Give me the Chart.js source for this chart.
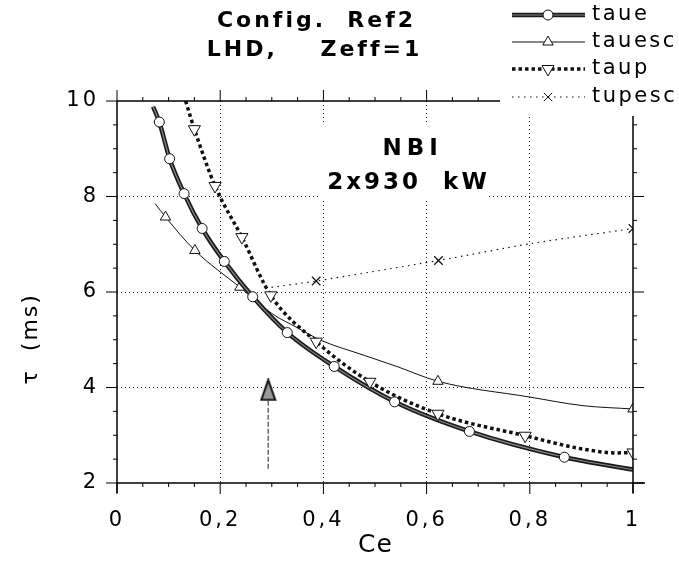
<!DOCTYPE html>
<html>
<head>
<meta charset="utf-8">
<script src="https://cdn.jsdelivr.net/npm/chart.js@4.4.1/dist/chart.umd.min.js"></script>
<style>
  html, body { margin: 0; padding: 0; background: #fff; }
</style>
</head>
<body>
<canvas id="myChart" width="679" height="561"></canvas>
<script>
// values (Ce on x, tau in ms on y)
const taueCe   = [0.070, 0.082, 0.102, 0.130, 0.165, 0.208, 0.263, 0.330, 0.421, 0.538, 0.683, 0.867, 1.000];
const taueTau  = [9.88, 9.56, 8.79, 8.06, 7.33, 6.64, 5.90, 5.15, 4.44, 3.70, 3.08, 2.54, 2.28];
const taueMarks = [0.082, 0.102, 0.130, 0.165, 0.208, 0.263, 0.330, 0.421, 0.538, 0.683, 0.867];

const tauescCe  = [0.074, 0.094, 0.151, 0.238, 0.300, 0.350, 0.395, 0.480, 0.545, 0.622, 0.800, 0.903, 1.000];
const tauescTau = [7.85, 7.57, 6.87, 6.10, 5.55, 5.25, 4.99, 4.67, 4.43, 4.13, 3.80, 3.62, 3.55];
const tauescMarks = [0.094, 0.151, 0.238, 0.622, 1.000];

const taupCe  = [0.133, 0.150, 0.190, 0.242, 0.298, 0.386, 0.490, 0.622, 0.791, 0.903, 0.968, 1.000];
const taupTau = [10.0, 9.41, 8.22, 7.15, 5.93, 4.96, 4.12, 3.45, 2.99, 2.71, 2.63, 2.64];
const taupMarks = [0.150, 0.190, 0.242, 0.298, 0.386, 0.490, 0.622, 0.791, 1.000];

const tupescCe  = [0.288, 0.386, 0.623, 0.800, 1.000];
const tupescTau = [6.08, 6.23, 6.66, 7.01, 7.33];
const tupescMarks = [0.386, 0.623, 1.000];

// arrow marking Ce ~ 0.29
const arrowCe  = [0.293, 0.293];
const arrowTau = [2.30, 3.74];
const arrowHeadTau = [3.95];

const xTickLabels = ["0", "0,2", "0,4", "0,6", "0,8", "1"];
const yTickLabels = ["2", "4", "6", "8", "10"];

const seriesNames = ["taue", "tauesc", "taup", "tupesc"];

const FONT = "'DejaVu Sans', 'Liberation Sans', sans-serif";

function pts(xs, ys) {
  return xs.map((v, i) => ({ x: v, y: ys[i] }));
}
function marked(list, r) {
  return ctx => (ctx.raw && list.includes(ctx.raw.x)) ? r : 0;
}

// narrow gray arrow head
const head = document.createElement("canvas");
head.width = 17; head.height = 23;
(function () {
  const c = head.getContext("2d");
  c.beginPath();
  c.moveTo(8.5, 1.5); c.lineTo(15.5, 21.5); c.lineTo(1.5, 21.5); c.closePath();
  c.fillStyle = "#9a9a9a"; c.fill();
  c.lineWidth = 2; c.strokeStyle = "#111"; c.stroke();
})();

const lineStyles = [
  { color: "#1a1a1a", width: 4.5, dash: [], mark: "circle", r: 5 },
  { color: "#111", width: 1, dash: [], mark: "triangle", r: 6 },
  { color: "#111", width: 3.5, dash: [3.5, 3], mark: "down", r: 7 },
  { color: "#111", width: 1.2, dash: [1.5, 4.5], mark: "cross", r: 6 }
];

function drawMark(ctx, kind, x, y, r) {
  ctx.save();
  ctx.setLineDash([]);
  ctx.lineWidth = 1;
  ctx.strokeStyle = "#111";
  ctx.fillStyle = "#fff";
  ctx.beginPath();
  if (kind === "circle") {
    ctx.arc(x, y, r, 0, Math.PI * 2);
    ctx.fill(); ctx.stroke();
  } else if (kind === "triangle" || kind === "down") {
    const s = kind === "down" ? -1 : 1;
    ctx.moveTo(x, y - s * r);
    ctx.lineTo(x + r * 0.866, y + s * r / 2);
    ctx.lineTo(x - r * 0.866, y + s * r / 2);
    ctx.closePath();
    ctx.fill(); ctx.stroke();
  } else {
    const d = r * 0.7;
    ctx.moveTo(x - d, y - d); ctx.lineTo(x + d, y + d);
    ctx.moveTo(x + d, y - d); ctx.lineTo(x - d, y + d);
    ctx.stroke();
  }
  ctx.restore();
}

function text(ctx, str, x, y, font, spacing, align) {
  ctx.save();
  ctx.font = font;
  ctx.letterSpacing = spacing + "px";
  ctx.fillStyle = "#000";
  ctx.textBaseline = "middle";
  ctx.textAlign = "left";
  const w = ctx.measureText(str).width - spacing;
  let x0 = x;
  if (align === "center") x0 = x - w / 2;
  ctx.fillText(str, x0, y);
  ctx.restore();
}

const decor = {
  id: "decor",
  beforeDraw(chart) {
    const ctx = chart.ctx;
    ctx.save();
    ctx.fillStyle = "#fff";
    ctx.fillRect(0, 0, chart.width, chart.height);
    ctx.restore();
    ctx.letterSpacing = "3px";
  },
  beforeDatasetsDraw(chart) {
    const { ctx, scales: { x, y } } = chart;
    // white box behind the NBI note
    ctx.save();
    ctx.fillStyle = "#fff";
    const l = x.getPixelForValue(0.393), r = x.getPixelForValue(0.716);
    const t = y.getPixelForValue(9.56), b = y.getPixelForValue(7.93);
    ctx.fillRect(l, t, r - l, b - t);
    ctx.restore();
    text(ctx, "NBI", x.getPixelForValue(0.568), y.getPixelForValue(9.0), "bold 23px " + FONT, 5, "center");
    text(ctx, "2x930  kW", x.getPixelForValue(0.562), y.getPixelForValue(8.28), "bold 23px " + FONT, 3, "center");
  },
  afterDatasetsDraw(chart) {
    const { ctx, chartArea: a, scales: { x, y } } = chart;
    ctx.save();
    ctx.setLineDash([]);
    ctx.strokeStyle = "#000";
    ctx.lineWidth = 1.5;
    ctx.beginPath();
    ctx.moveTo(a.left, a.top); ctx.lineTo(a.right + 10, a.top);
    ctx.moveTo(a.left, a.bottom); ctx.lineTo(a.right + 12, a.bottom);
    ctx.moveTo(a.left, a.top); ctx.lineTo(a.left, a.bottom + 10);
    ctx.moveTo(a.right, a.top); ctx.lineTo(a.right, a.bottom + 10);
    ctx.stroke();
    ctx.lineWidth = 1;
    ctx.beginPath();
    for (let i = 0; i <= 20; i++) {
      const px = x.getPixelForValue(i / 20);
      const len = i % 4 === 0 ? 11 : 4;
      ctx.moveTo(px, a.bottom); ctx.lineTo(px, a.bottom + len);
      ctx.moveTo(px, a.top); ctx.lineTo(px, a.top - len);
    }
    for (let i = 0; i <= 16; i++) {
      const py = y.getPixelForValue(2 + i / 2);
      const len = i % 4 === 0 ? 11 : 4;
      ctx.moveTo(a.left, py); ctx.lineTo(a.left - len, py);
      ctx.moveTo(a.right, py); ctx.lineTo(a.right + len, py);
    }
    ctx.stroke();
    ctx.restore();
  },
  afterDraw(chart) {
    const { ctx, scales: { x, y } } = chart;
    // legend box covers the frame corner
    ctx.save();
    ctx.fillStyle = "#fff";
    ctx.fillRect(500, 0, 179, 116);
    ctx.restore();
    const rows = [15, 42, 69, 97];
    seriesNames.forEach((name, i) => {
      const s = lineStyles[i];
      ctx.save();
      ctx.strokeStyle = s.color;
      ctx.lineWidth = s.width;
      ctx.setLineDash(s.dash);
      ctx.beginPath();
      ctx.moveTo(512, rows[i]); ctx.lineTo(585, rows[i]);
      ctx.stroke();
      if (i === 0) {
        ctx.strokeStyle = "#8a8a8a";
        ctx.lineWidth = 1.2;
        ctx.stroke();
      }
      ctx.restore();
      drawMark(ctx, s.mark, 548, rows[i], s.r);
      text(ctx, name, 592, rows[i], "21px " + FONT, 2.5, "left");
    });
    // title
    text(ctx, "Config.  Ref2", 315, 21, "bold 22px " + FONT, 3, "center");
    text(ctx, "LHD,    Zeff=1", 313, 50, "bold 22px " + FONT, 3, "center");
    // axis titles
    text(ctx, "Ce", x.getPixelForValue(0.5), 545, "25px " + FONT, 1, "center");
    ctx.save();
    ctx.translate(31, y.getPixelForValue(5));
    ctx.rotate(-Math.PI / 2);
    text(ctx, "\u03c4  (ms)", 0, 0, "22px " + FONT, 2, "center");
    ctx.restore();
  }
};

function gridColor(ctx) {
  const n = ctx.scale.ticks.length;
  return (ctx.index === 0 || ctx.index === n - 1) ? "rgba(0,0,0,0)" : "#222";
}

new Chart(document.getElementById("myChart"), {
  type: "scatter",
  data: {
    datasets: [
      {
        label: "taue",
        data: pts(taueCe, taueTau),
        showLine: true,
        borderColor: lineStyles[0].color,
        borderWidth: lineStyles[0].width,
        cubicInterpolationMode: "monotone",
        pointRadius: 0,
        order: 3
      },
      {
        // light core of the double taue line, with its circles
        label: "taue core",
        data: pts(taueCe, taueTau),
        showLine: true,
        borderColor: "#8a8a8a",
        borderWidth: 1.2,
        cubicInterpolationMode: "monotone",
        pointStyle: "circle",
        pointRadius: marked(taueMarks, 5),
        pointBackgroundColor: "#fff",
        pointBorderColor: "#111",
        pointBorderWidth: 1,
        order: 2
      },
      {
        label: "tauesc",
        data: pts(tauescCe, tauescTau),
        showLine: true,
        borderColor: lineStyles[1].color,
        borderWidth: lineStyles[1].width,
        cubicInterpolationMode: "monotone",
        pointStyle: "triangle",
        pointRadius: marked(tauescMarks, 6),
        pointBackgroundColor: "#fff",
        pointBorderColor: "#111",
        pointBorderWidth: 1,
        order: 4
      },
      {
        label: "taup",
        data: pts(taupCe, taupTau),
        showLine: true,
        borderColor: lineStyles[2].color,
        borderWidth: lineStyles[2].width,
        borderDash: lineStyles[2].dash,
        cubicInterpolationMode: "monotone",
        pointStyle: "triangle",
        pointRotation: 180,
        pointRadius: marked(taupMarks, 7),
        pointBackgroundColor: "#fff",
        pointBorderColor: "#111",
        pointBorderWidth: 1,
        order: 1
      },
      {
        label: "tupesc",
        data: pts(tupescCe, tupescTau),
        showLine: true,
        borderColor: lineStyles[3].color,
        borderWidth: lineStyles[3].width,
        borderDash: lineStyles[3].dash,
        tension: 0.25,
        pointStyle: "crossRot",
        pointRadius: marked(tupescMarks, 6),
        pointBorderColor: "#111",
        pointBorderWidth: 1.2,
        order: 5
      },
      {
        label: "arrow",
        data: pts(arrowCe, arrowTau),
        showLine: true,
        borderColor: "#444",
        borderWidth: 1.2,
        borderDash: [5, 2],
        pointRadius: 0,
        order: 6
      },
      {
        label: "arrowHead",
        data: pts(arrowCe.slice(0, 1), arrowHeadTau),
        showLine: false,
        pointStyle: head,
        pointRadius: 10,
        order: 0
      }
    ]
  },
  options: {
    responsive: false,
    animation: false,
    devicePixelRatio: 1,
    layout: { padding: { top: 101, right: 46, left: 0, bottom: 0 } },
    plugins: { legend: { display: false }, tooltip: { enabled: false } },
    scales: {
      x: {
        type: "linear",
        min: 0, max: 1,
        afterFit: s => { s.height = 78; },
        ticks: {
          stepSize: 0.2,
          padding: 25,
          color: "#000",
          font: { family: FONT, size: 21 },
          maxRotation: 0,
          callback: (v, i) => xTickLabels[i]
        },
        grid: { color: gridColor, lineWidth: 1, drawTicks: false },
        border: { display: false, dash: [1, 3] }
      },
      y: {
        type: "linear",
        min: 2, max: 10,
        afterFit: s => { s.width = 117; },
        ticks: {
          stepSize: 2,
          padding: 18,
          color: "#000",
          font: { family: FONT, size: 21 },
          callback: (v, i) => yTickLabels[i]
        },
        grid: { color: gridColor, lineWidth: 1, drawTicks: false },
        border: { display: false, dash: [1, 3] }
      }
    }
  },
  plugins: [decor]
});
</script>
</body>
</html>
